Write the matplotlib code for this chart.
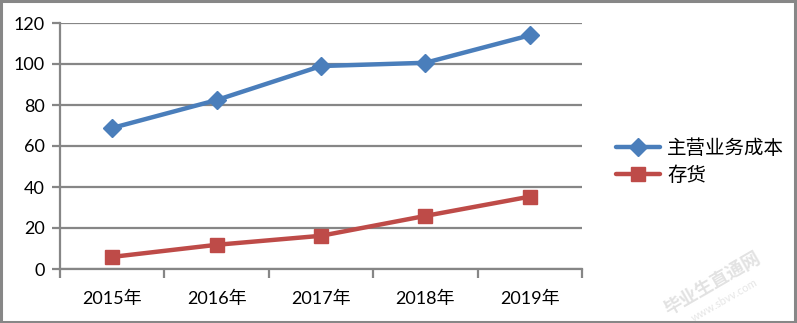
import matplotlib
matplotlib.use("Agg")
import matplotlib.pyplot as plt
from matplotlib.patches import Rectangle
from matplotlib.ticker import FixedLocator

plt.rcParams['font.family'] = ['Lato', 'Noto Sans CJK SC', 'DejaVu Sans']

years = ['2015年', '2016年', '2017年', '2018年', '2019年']
main_cost = [68.8, 82.4, 99.0, 100.6, 114.0]
inventory = [5.9, 11.8, 16.2, 25.9, 35.3]
series_names = ['主营业务成本', '存货']
y_ticks = [0, 20, 40, 60, 80, 100, 120]

grid_c = '#868686'
blue = '#4A7EBB'
red = '#BE4B48'

fig = plt.figure(figsize=(7.97, 3.23), dpi=100)
ax = fig.add_axes([60/797, 1 - 269/323, (582 - 60)/797, (269 - 23)/323])

x = list(range(len(years)))
ax.plot(x, main_cost, color=blue, lw=3.2, marker='D', ms=9, label=series_names[0],
        solid_capstyle='round')
ax.plot(x, inventory, color=red, lw=3.2, marker='s', ms=10, label=series_names[1],
        solid_capstyle='round')

ax.set_xlim(-0.5, len(years) - 0.5)
ax.set_ylim(0, 120)
ax.set_yticks(y_ticks)
ax.set_xticks(x)
ax.set_xticklabels(years)
ax.xaxis.set_minor_locator(FixedLocator([i - 0.5 for i in range(len(years) + 1)]))

ax.grid(axis='y', color=grid_c, lw=1.6)
ax.set_axisbelow(True)
for s in ['top', 'right']:
    ax.spines[s].set_visible(False)
for s in ['left', 'bottom']:
    ax.spines[s].set_color(grid_c)
    ax.spines[s].set_linewidth(1.6)

ax.tick_params(axis='y', which='major', length=6, width=1.6, color=grid_c,
               labelsize=13, pad=5)
ax.tick_params(axis='x', which='major', length=0, labelsize=13, pad=16)
ax.tick_params(axis='x', which='minor', length=6.5, width=1.6, color=grid_c)

leg = fig.legend(loc='center left', bbox_to_anchor=(598/797, 1 - 161/323),
                 frameon=False, fontsize=14, handlelength=2.3,
                 labelspacing=0.45, handletextpad=0.35)

# Figure border
fig.patches.append(Rectangle((0.0015, 0.003), 0.996, 0.993, transform=fig.transFigure,
                             fill=False, edgecolor='#878787', lw=2.2))

# Watermark
fig.text(712/797, 1 - 283/323, '毕业生直通网', rotation=30, color='#e2e2e2',
         fontsize=13, fontweight='bold', ha='center', va='center')
fig.text(724/797, 1 - 300/323, 'www.sbvv.com', rotation=30, color='#e6e6e6',
         fontsize=8, ha='center', va='center')

fig.savefig('out.png', dpi=100)
